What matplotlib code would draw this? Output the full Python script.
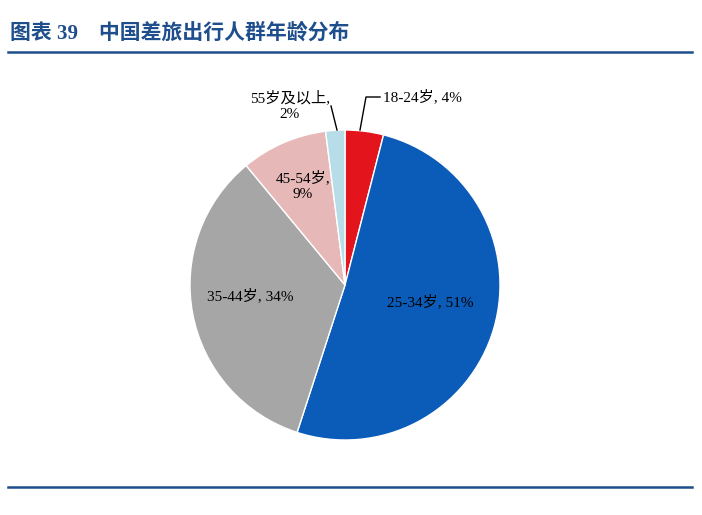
import matplotlib
matplotlib.use("Agg")
import matplotlib.pyplot as plt

labels = ["18-24岁", "25-34岁", "35-44岁", "45-54岁", "55岁及以上"]
values = [4, 51, 34, 9, 2]
colors = ["#E3141B", "#0B5CB8", "#A6A6A6", "#E6B9B8", "#B7DEE8"]

plt.rcParams['font.family'] = ['Liberation Serif', 'Noto Sans CJK SC']
fig = plt.figure(figsize=(7.02, 5.15), dpi=100)
W, H = 702, 515
cx, cy, r = 345, 285, 155
ax = fig.add_axes([(cx - r) / W, (H - cy - r) / H, 2 * r / W, 2 * r / H])
ax.pie(values, colors=colors, startangle=90, counterclock=False,
       wedgeprops=dict(edgecolor="white", linewidth=1))
ax.set_xlim(-1, 1); ax.set_ylim(-1, 1); ax.set_aspect("equal")

def d(px, py):
    return ((px - cx) / r, (cy - py) / r)

fs = 11
ax.text(*d(430, 302), f"{labels[1]}, {values[1]}%", ha="center", va="center", fontsize=fs)
ax.text(*d(250, 296), f"{labels[2]}, {values[2]}%", ha="center", va="center", fontsize=fs)
ax.text(*d(303, 186), f"{labels[3]},\n{values[3]}%", ha="center", va="center", fontsize=fs, linespacing=1.3)
ax.text(*d(383, 97), f"{labels[0]}, {values[0]}%", ha="left", va="center", fontsize=fs, clip_on=False)
ax.text(*d(290, 106), f"{labels[4]},\n{values[4]}%", ha="center", va="center", fontsize=fs, linespacing=1.3, clip_on=False)
# leader lines
p = [d(360, 130), d(366, 97), d(380, 97)]
ax.plot([q[0] for q in p], [q[1] for q in p], color="black", lw=1, clip_on=False)
p = [d(337, 130), d(331, 106)]
ax.plot([q[0] for q in p], [q[1] for q in p], color="black", lw=1, clip_on=False)

fig.text(10 / W, 1 - 33 / H, "图表 39　中国差旅出行人群年龄分布", fontsize=15, fontweight="bold",
         color="#1F4E8C", va="center", ha="left", family=['Liberation Serif', 'Noto Sans CJK SC'])
fig.add_artist(plt.Line2D([8 / W, 692 / W], [1 - 52 / H] * 2, color="#1F4E8C", lw=1.8))
fig.add_artist(plt.Line2D([8 / W, 692 / W], [1 - 487 / H] * 2, color="#1F4E8C", lw=1.8))
fig.savefig("out.png", dpi=100)
